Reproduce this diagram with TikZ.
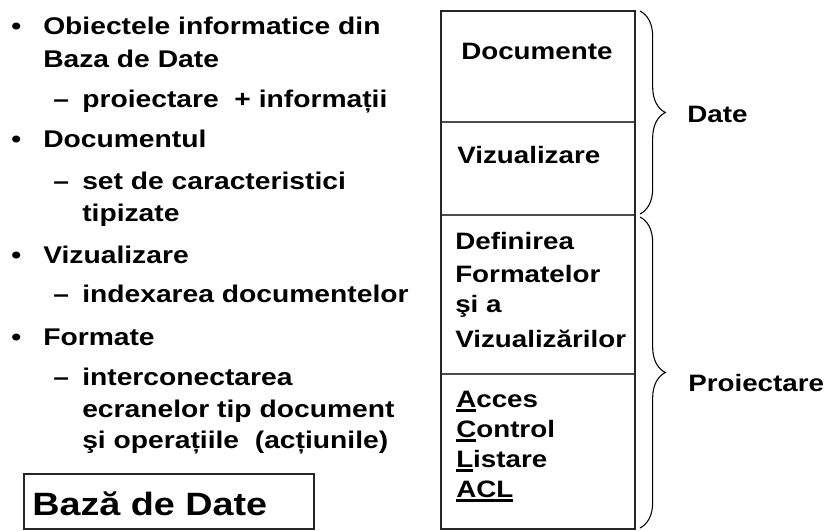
\documentclass[tikz,border=0pt]{standalone}
\usepackage{fontspec}
\setmainfont{Liberation Sans}[FakeStretch=1.17]
\usetikzlibrary{decorations.pathreplacing}
\newcommand\ulchar[1]{\setbox0\hbox{#1}\rlap{\rule[-3.4pt]{\wd0}{1.9pt}}\box0}
\tikzset{
  lt/.style={anchor=base west, inner sep=0pt, font=\fontsize{18.1}{21}\selectfont\bfseries},
  bt/.style={anchor=base west, inner sep=0pt, font=\fontsize{17.8}{21}\selectfont\bfseries},
  rt/.style={anchor=base west, inner sep=0pt, font=\fontsize{17.8}{21}\selectfont\bfseries},
  frame/.style={draw=black!85, line width=1.2pt},
  divider/.style={draw=black!70, line width=0.8pt},
  bracestyle/.style={draw=black, line width=0.8pt, decorate, decoration={brace, amplitude=19pt}}
}
\begin{document}
\begin{tikzpicture}[x=0.75pt,y=-0.75pt]
\useasboundingbox (0,0) rectangle (829,531);
% left list
\node[lt] (b1) at (11,35) {•};
\node[lt] (t1) at (43,35) {Obiectele informatice din};
\node[lt] (t2) at (43,68) {Baza de Date};
\node[lt] (d1) at (53,108) {–};
\node[lt] (t3) at (82,108) {proiectare\ \ + informații};
\node[lt] (b2) at (11,148) {•};
\node[lt] (t4) at (43,148) {Documentul};
\node[lt] (d2) at (53,190) {–};
\node[lt] (t5) at (82,190) {set de caracteristici};
\node[lt] (t6) at (82,222) {tipizate};
\node[lt] (b3) at (11,263) {•};
\node[lt] (t7) at (43,263) {Vizualizare};
\node[lt] (d3) at (53,303) {–};
\node[lt] (t8) at (82,303) {indexarea documentelor};
\node[lt] (b4) at (11,345) {•};
\node[lt] (t9) at (43,345) {Formate};
\node[lt] (d4) at (53,385) {–};
\node[lt] (t10) at (82,385) {interconectarea};
\node[lt] (t11) at (82,417) {ecranelor tip document};
\node[lt] (t12) at (82,448) {şi operațiile\ \ (acțiunile)};
% Baza de date box
\node[frame, minimum width=290*0.75pt, minimum height=55*0.75pt, anchor=north west, inner sep=0pt] (bdbox) at (23,473) {};
\node[anchor=base west, inner sep=0pt, font=\fontsize{24.2}{28}\selectfont\bfseries] (bd) at (32,515) {Bază de Date};
% main column
\coordinate (tl) at (441,11);
\coordinate (br) at (635,529);
\draw[divider] (441,122) coordinate (d1l) -- (635,122) coordinate (d1r);
\draw[divider] (441,215) coordinate (d2l) -- (635,215) coordinate (d2r);
\draw[divider] (441,374) coordinate (d3l) -- (635,374) coordinate (d3r);
\draw[frame] (tl) rectangle (br);
\node[bt] (c1) at (461,60) {Documente};
\node[bt] (c2) at (457,164) {Vizualizare};
\node[bt] (c3) at (455,250) {Definirea};
\node[bt] (c4) at (455,282) {Formatelor};
\node[bt] (c5) at (455,313) {şi a};
\node[bt] (c6) at (455,347) {Vizualizărilor};
\node[bt] (c7) at (456,407) {\ulchar{A}cces};
\node[bt] (c8) at (456,437) {\ulchar{C}ontrol};
\node[bt] (c9) at (456,467) {\ulchar{L}istare};
\node[bt] (c10) at (456,497) {\ulchar{ACL}};
% braces
\coordinate (br1a) at (640,11);
\coordinate (br1b) at (640,214);
\coordinate (br2a) at (640,217);
\coordinate (br2b) at (640,528);
\draw[bracestyle] (br1a) -- (br1b);
\draw[bracestyle] (br2a) -- (br2b);
\node[rt] (date) at (687,123) {Date};
\node[rt] (proi) at (688,391) {Proiectare};
\end{tikzpicture}
\end{document}
